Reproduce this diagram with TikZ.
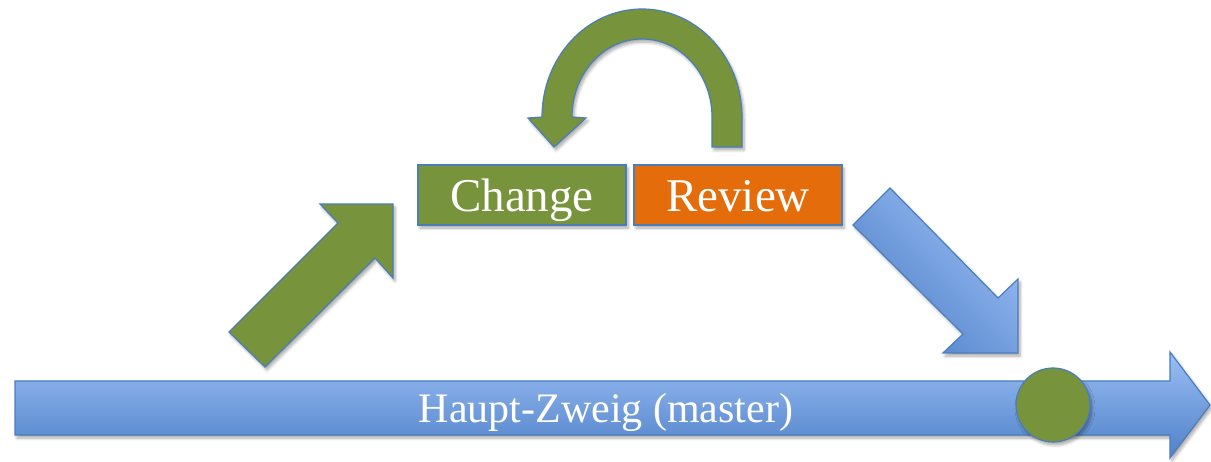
\documentclass[tikz,border=0pt]{standalone}
\usepackage{fontspec}
\setmainfont{Liberation Serif}
\usetikzlibrary{shadows.blur}
\definecolor{olive}{RGB}{119,147,60}
\definecolor{orng}{RGB}{228,108,10}
\definecolor{edge}{RGB}{74,126,187}
\definecolor{blueL}{RGB}{155,190,245}
\definecolor{blueD}{RGB}{79,129,200}
\tikzset{
  shd/.style={blur shadow={shadow blur steps=6, shadow xshift=2pt, shadow yshift=-3pt, shadow opacity=35, shadow blur radius=3pt}},
  shape outline/.style={draw=edge, line width=1.2pt, line join=miter},
  boxnode/.style={shape outline, shd, rectangle, minimum width=208pt, minimum height=60pt, inner sep=0pt,
     text=white, text height=40pt, text depth=6pt, font=\fontsize{47}{50}\selectfont},
}
\begin{document}
\begin{tikzpicture}[x=1pt,y=-1pt]
\useasboundingbox (0,0) rectangle (1211,462);
% main branch arrow
\draw[shape outline, shd, top color=blueL, bottom color=blueD]
  (15,381) -- (1170,381) -- (1170,352) -- (1210,405) -- (1170,458) -- (1170,435) -- (15,435) -- cycle;
\node[text=white, anchor=base, font=\fontsize{42}{44}\selectfont, inner sep=0pt] (master) at (606,423) {Haupt-Zweig (master)};
% commit circle
\node[circle, fill=olive, shape outline, shd, minimum size=74pt, inner sep=0pt] (commit) at (1053,405) {};
% up-right green arrow
\draw[shape outline, shd, fill=olive]
  (229,332) -- (338,223) -- (320,204) -- (393,204) -- (393,278) -- (375,258) -- (265,367) -- cycle;
% down-right blue arrow
\draw[shape outline, shd, top color=blueL, bottom color=blueD, shading angle=-45]
  (853,225) -- (890,188) -- (998,298) -- (1018,279) -- (1018,353) -- (943,353) -- (963,334) -- cycle;
% U-turn arrow
\draw[shape outline, shd, fill=olive]
  (742,147) -- (742,117) arc[start angle=0, end angle=-180, x radius=100, y radius=108]
  -- (528,118) -- (554,147) -- (586,118) -- (572,117)
  arc[start angle=-180, end angle=0, x radius=70, y radius=78]
  -- (712,147) -- cycle;
% boxes
\node[boxnode, fill=olive] (change) at (522,195) {Change};
\node[boxnode, fill=orng] (review) at (738,195) {Review};
\end{tikzpicture}
\end{document}
